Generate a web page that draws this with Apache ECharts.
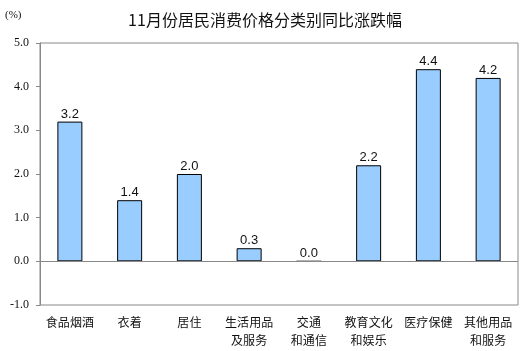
<!DOCTYPE html>
<html lang="zh">
<head>
    <meta charset="UTF-8">
    <title>11月份居民消费价格分类别同比涨跌幅</title>
    <script src="https://cdn.jsdelivr.net/npm/echarts@6/dist/echarts.min.js"></script>
    <style>
        body { margin: 0; background: #fff; }
        #main { width: 524px; height: 351px; }
    </style>
</head>
<body>
<div id="main"></div>
<script type="text/javascript">
    var categories = ['食品烟酒', '衣着', '居住', '生活用品\n及服务', '交通\n和通信', '教育文化\n和娱乐', '医疗保健', '其他用品\n和服务'];
    var values = [3.2, 1.4, 2.0, 0.3, 0.0, 2.2, 4.4, 4.2];

    var myChart = echarts.init(document.getElementById('main'));
    var option = {
        animation: false,
        title: {
            text: '11月份居民消费价格分类别同比涨跌幅',
            left: 260,
            textAlign: 'center',
            top: 7,
            textStyle: { fontFamily: 'Noto Sans CJK SC', fontSize: 16, fontWeight: 'normal', color: '#111' }
        },
        graphic: [{
            type: 'text', left: 5, top: 10,
            style: { text: '(%)', font: '11px "Liberation Serif"', fill: '#111' }
        }],
        grid: {
            left: 40, right: 6, top: 43, bottom: 46,
            outerBoundsMode: 'none',
            show: true, borderColor: '#888', borderWidth: 1
        },
        xAxis: {
            type: 'category',
            data: categories,
            position: 'bottom',
            axisLine: { show: false, onZero: false },
            axisTick: { show: false },
            axisLabel: {
                interval: 0, margin: 8, lineHeight: 18,
                fontFamily: 'Noto Sans CJK SC', fontSize: 12, color: '#111'
            }
        },
        yAxis: {
            type: 'value',
            min: -1, max: 5, interval: 1,
            axisLine: { show: true, lineStyle: { color: '#888' } },
            axisTick: { show: true, length: 4, lineStyle: { color: '#888' } },
            splitLine: { show: false },
            axisLabel: {
                margin: 11, fontFamily: 'Liberation Serif', fontSize: 12, color: '#111',
                formatter: function (v) { return v.toFixed(1); }
            }
        },
        series: [{
            type: 'bar',
            data: values,
            barWidth: 25,
            itemStyle: { color: '#99CCFF', borderColor: '#000', borderWidth: 1 },
            label: {
                show: true, position: 'top', distance: 1,
                fontFamily: 'Liberation Sans', fontSize: 13, color: '#111',
                formatter: function (p) { return p.value.toFixed(1); }
            },
            markLine: {
                silent: true, symbol: 'none', label: { show: false },
                lineStyle: { color: '#888', type: 'solid', width: 1 },
                data: [{ yAxis: 0 }]
            }
        }]
    };
    myChart.setOption(option);
</script>
</body>
</html>
